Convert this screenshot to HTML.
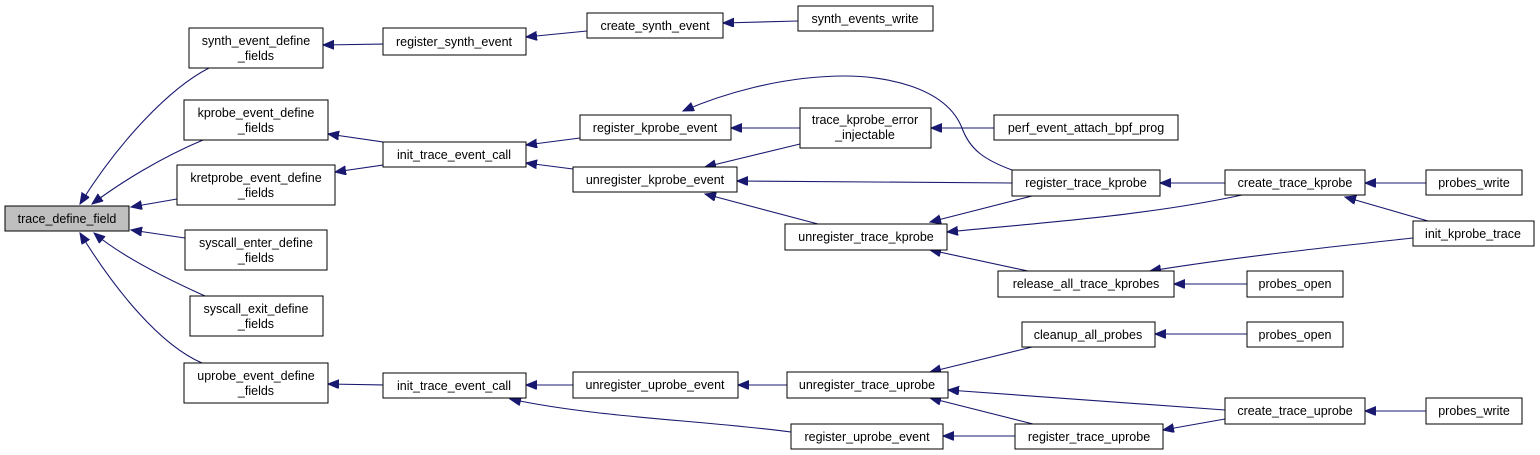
<!DOCTYPE html>
<html><head><meta charset="utf-8"><style>
html,body{margin:0;padding:0;background:#fff;width:1540px;height:455px;overflow:hidden}
svg text{font-family:"Liberation Sans",sans-serif;font-size:12.5px;fill:#000;text-anchor:middle}
</style></head><body>
<svg width="1540" height="455" viewBox="0 0 1540 455" xmlns="http://www.w3.org/2000/svg">
<defs>
<marker id="a" markerUnits="userSpaceOnUse" markerWidth="12" markerHeight="10" refX="11" refY="4.5" orient="auto">
<path d="M0,0 L11,4.5 L0,9 Z" fill="#191970" stroke="#191970"/>
</marker>
</defs>
<g fill="none" stroke="#191970" stroke-width="1.1" marker-end="url(#a)">
<path d="M209,68 C170,88 120,140 80,204"/>
<path d="M203,140 C160,158 120,183 92,204"/>
<path d="M177,199 L131,207"/>
<path d="M185,238 L131,230"/>
<path d="M205,296 C165,278 120,255 94,233"/>
<path d="M202,363 C160,345 115,290 80,233"/>
<path d="M383,44 L323,45"/>
<path d="M383,142 L328,134"/>
<path d="M383,165 L335,172"/>
<path d="M383,385 L328,384"/>
<path d="M587,31 L526,37"/>
<path d="M580,138 L526,145"/>
<path d="M573,169 L526,163"/>
<path d="M573,385 L526,385"/>
<path d="M791,432 C700,420 600,418 510,399"/>
<path d="M798,21 L723,23"/>
<path d="M800,128 L731,128"/>
<path d="M800,144 L705,167"/>
<path d="M1012,183 L737,181"/>
<path d="M818,224 L705,194"/>
<path d="M1012,170 C985,160 970,150 962,128 C945,85 880,76 845,76 C780,76 720,95 683,111"/>
<path d="M994,128 L931,128"/>
<path d="M1225,183 L1160,183"/>
<path d="M1032,196 L930,222"/>
<path d="M1242,195 C1150,215 1050,222 947,232"/>
<path d="M1028,271 L930,250"/>
<path d="M1426,183 L1365,183"/>
<path d="M1428,221 L1345,197"/>
<path d="M1413,238 C1320,248 1230,258 1150,271"/>
<path d="M1247,284 L1174,284"/>
<path d="M1247,334 L1155,334"/>
<path d="M1032,347 L930,372"/>
<path d="M787,385 L738,385"/>
<path d="M1225,410 L948,390"/>
<path d="M1033,424 L930,398"/>
<path d="M1225,419 L1163,430"/>
<path d="M1015,436 L943,436"/>
<path d="M1426,411 L1365,411"/>
</g>
<g stroke="#000" stroke-width="1" fill="#fff">
<rect x="5" y="206" width="124" height="25" fill="#bfbfbf"/>
<rect x="189" y="28" width="134" height="40"/>
<rect x="184" y="100" width="144" height="40"/>
<rect x="177" y="165" width="158" height="40"/>
<rect x="185" y="230" width="142" height="40"/>
<rect x="190" y="296" width="133" height="40"/>
<rect x="184" y="363" width="144" height="40"/>
<rect x="383" y="28" width="143" height="27"/>
<rect x="383" y="142" width="143" height="25"/>
<rect x="383" y="373" width="143" height="25"/>
<rect x="587" y="13" width="136" height="25"/>
<rect x="798" y="6" width="135" height="25"/>
<rect x="580" y="115" width="151" height="25"/>
<rect x="800" y="108" width="131" height="40"/>
<rect x="994" y="115" width="184" height="25"/>
<rect x="573" y="167" width="164" height="25"/>
<rect x="1012" y="170" width="148" height="26"/>
<rect x="1225" y="170" width="140" height="25"/>
<rect x="1426" y="170" width="96" height="25"/>
<rect x="785" y="224" width="162" height="26"/>
<rect x="1413" y="221" width="121" height="25"/>
<rect x="998" y="271" width="176" height="26"/>
<rect x="1247" y="271" width="96" height="26"/>
<rect x="1022" y="322" width="133" height="25"/>
<rect x="1247" y="322" width="96" height="25"/>
<rect x="573" y="372" width="165" height="26"/>
<rect x="787" y="372" width="161" height="26"/>
<rect x="1225" y="398" width="140" height="26"/>
<rect x="1426" y="398" width="96" height="26"/>
<rect x="791" y="424" width="152" height="25"/>
<rect x="1015" y="424" width="148" height="25"/>
</g>
<g>
<text x="67" y="223">trace_define_field</text>
<text x="256" y="45">synth_event_define</text><text x="256" y="60">_fields</text>
<text x="256" y="117">kprobe_event_define</text><text x="256" y="132">_fields</text>
<text x="256" y="182">kretprobe_event_define</text><text x="256" y="197">_fields</text>
<text x="256" y="247">syscall_enter_define</text><text x="256" y="262">_fields</text>
<text x="256" y="313">syscall_exit_define</text><text x="256" y="328">_fields</text>
<text x="256" y="380">uprobe_event_define</text><text x="256" y="395">_fields</text>
<text x="454" y="46">register_synth_event</text>
<text x="454" y="159">init_trace_event_call</text>
<text x="454" y="390">init_trace_event_call</text>
<text x="655" y="30">create_synth_event</text>
<text x="865" y="23">synth_events_write</text>
<text x="655" y="132">register_kprobe_event</text>
<text x="865" y="124">trace_kprobe_error</text><text x="865" y="139">_injectable</text>
<text x="1086" y="132">perf_event_attach_bpf_prog</text>
<text x="655" y="184">unregister_kprobe_event</text>
<text x="1086" y="187">register_trace_kprobe</text>
<text x="1295" y="187">create_trace_kprobe</text>
<text x="1474" y="187">probes_write</text>
<text x="866" y="241">unregister_trace_kprobe</text>
<text x="1473" y="238">init_kprobe_trace</text>
<text x="1086" y="288">release_all_trace_kprobes</text>
<text x="1295" y="288">probes_open</text>
<text x="1088" y="339">cleanup_all_probes</text>
<text x="1295" y="339">probes_open</text>
<text x="655" y="389">unregister_uprobe_event</text>
<text x="867" y="389">unregister_trace_uprobe</text>
<text x="1295" y="415">create_trace_uprobe</text>
<text x="1474" y="415">probes_write</text>
<text x="867" y="441">register_uprobe_event</text>
<text x="1089" y="441">register_trace_uprobe</text>
</g>
</svg>
</body></html>
